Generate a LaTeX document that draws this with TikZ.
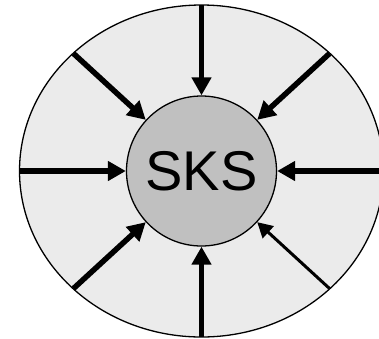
\documentclass[tikz,border=0pt]{standalone}
\usepackage{fontspec}
\setmainfont{Liberation Sans}
\usetikzlibrary{arrows.meta}
\definecolor{rimgray}{HTML}{EBEBEB}
\definecolor{hubgray}{HTML}{C0C0C0}
\tikzset{
 sks rim/.style={draw=black,line width=1.3pt,fill=rimgray},
 sks hub/.style={circle,draw=black,line width=1.3pt,fill=hubgray,
                 minimum size=150pt,inner sep=0pt,font=\fontsize{56}{60}\selectfont},
 sks feed/.style={line width=5.5pt,-{Triangle[length=18pt,width=19pt]}},
 sks thin feed/.style={line width=3pt,-{Triangle[length=15pt,width=16pt]}}
}
\begin{document}
\begin{tikzpicture}[x=1pt,y=-1pt]
 \useasboundingbox (0,0) rectangle (379,338);
 \draw[sks rim] (201.5,171) ellipse [x radius=182,y radius=166];
 \coordinate (n) at (201.5,5);
 \coordinate (ne) at (329.5,53.5);
 \coordinate (e) at (383.5,171);
 \coordinate (se) at (329.5,288.5);
 \coordinate (s) at (201.5,337);
 \coordinate (sw) at (73.5,288.5);
 \coordinate (w) at (19.5,171);
 \coordinate (nw) at (73.5,53.5);
 \node[sks hub] (sks) at (201.5,171) {SKS};

 \foreach \p in {n,ne,e,s,sw,w,nw}
   \draw[sks feed] (\p)--(sks);
 \draw[sks thin feed] (se)--(sks);
\end{tikzpicture}
\end{document}
